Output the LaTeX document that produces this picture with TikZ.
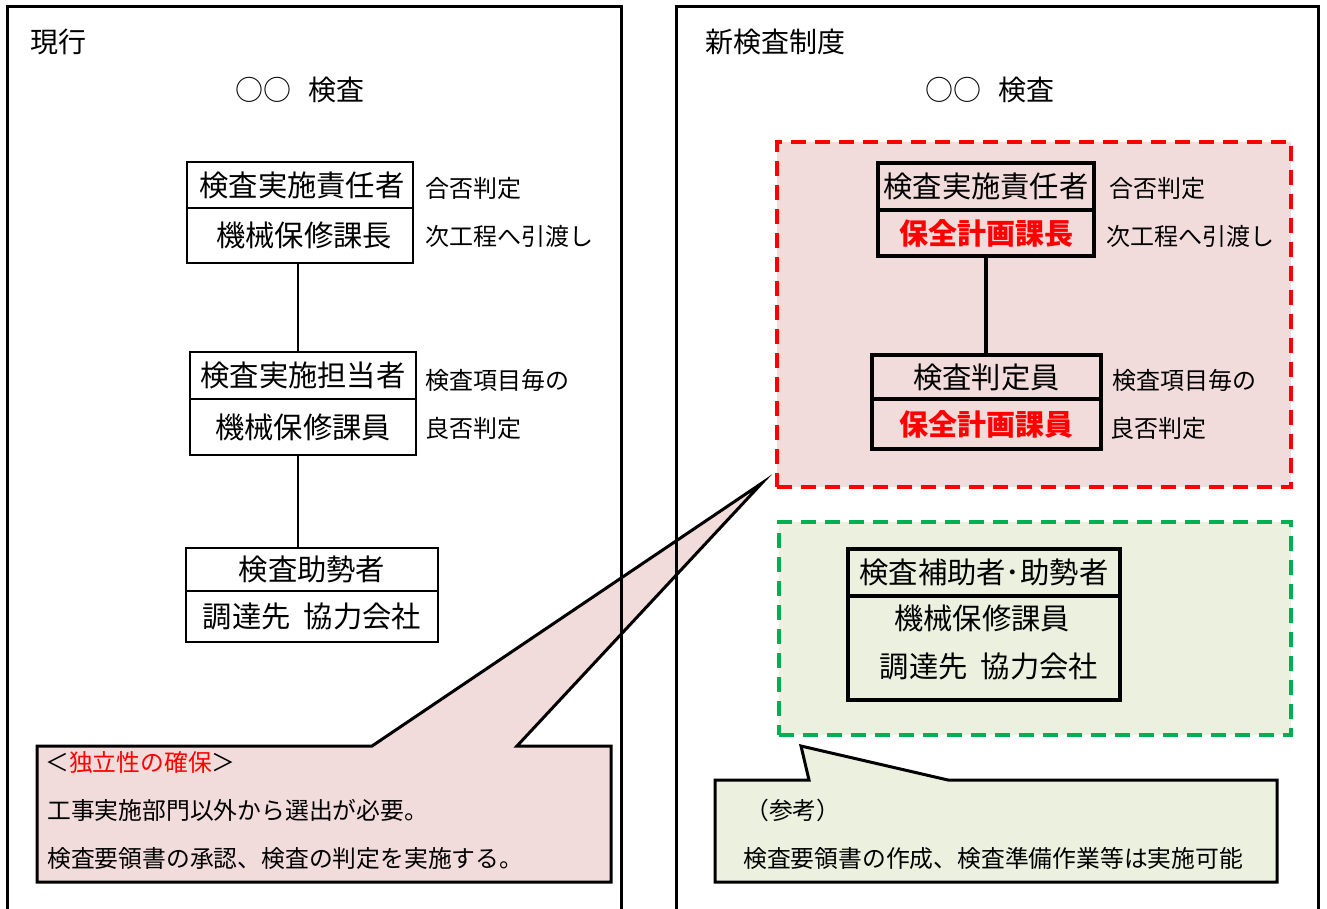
\documentclass[tikz,border=0pt]{standalone}
\usepackage{fontspec}
\setmainfont{Noto Sans CJK JP}
\definecolor{pinkfill}{RGB}{242,220,219}
\definecolor{greenfill}{RGB}{235,241,222}
\definecolor{dgreen}{RGB}{0,176,80}
\begin{document}
\begin{tikzpicture}[x=1pt,y=-1pt,
  title/.style={font=\fontsize{28}{30}\selectfont, inner sep=0pt},
  lab/.style={font=\fontsize{24}{26}\selectfont, anchor=west, inner sep=0pt},
  note/.style={font=\fontsize{23.8}{26}\selectfont, anchor=west, inner sep=0pt},
  celltxt/.style={font=\fontsize{29.3}{32}\selectfont, inner sep=0pt},
  cell/.style={draw, line width=2pt, inner sep=0pt, font=\fontsize{29.3}{32}\selectfont},
  cellb/.style={draw, line width=3.5pt, inner sep=0pt, font=\fontsize{29.3}{32}\selectfont},
  redtxt/.style={text=red, font=\fontsize{29}{32}\selectfont\bfseries},
  link/.style={line width=2pt},
  linkb/.style={line width=3.5pt},
  zone/.style={line width=3.5pt, dash pattern=on 15pt off 9pt, inner sep=0pt},
  callout/.style={line width=3pt, draw=black, line join=miter},
  panel/.style={line width=3pt}
]
\useasboundingbox (0,0) rectangle (1327,908);

% zones
\node[zone, draw=red, fill=pinkfill, minimum width=514pt, minimum height=345pt] (redzone) at (1034,314.5) {};
\node[zone, draw=dgreen, fill=greenfill, minimum width=512pt, minimum height=213pt] (greenzone) at (1035,628.5) {};

% titles
\node[title, anchor=west] (tl) at (30,42) {現行};
\node[title, anchor=west] (tr) at (705,42) {新検査制度};
\node[title] (kl) at (300,90) {○○\hspace{17pt}検査};
\node[title] (kr) at (990,90) {○○\hspace{17pt}検査};

% left chain
\node[cell, minimum width=226pt, minimum height=46pt] (L1a) at (300,185) {\hspace{4pt}検査実施責任者};
\node[cell, minimum width=226pt, minimum height=55pt] (L1b) at (300,235.5) {\hspace{8pt}機械保修課長};
\node[cell, minimum width=226pt, minimum height=47pt] (L2a) at (303,375.5) {検査実施担当者};
\node[cell, minimum width=226pt, minimum height=56pt] (L2b) at (303,427) {機械保修課員};
\node[cell, minimum width=252pt, minimum height=43pt] (L3a) at (312,569.5) {検査助勢者\hspace{12pt}};
\node[cell, minimum width=252pt, minimum height=51pt] (L3b) at (312,616.5) {調達先\hspace{0.45em}協力会社};
\draw[link] (298,263) coordinate (c1) -- (c1 |- L2a.north);
\draw[link] (298,455) coordinate (c2) -- (c2 |- L3a.north);

\node[lab] (l1) at (425,188) {合否判定};
\node[lab] (l2) at (425,236) {次工程へ引渡し};
\node[lab] (l3) at (425,380) {検査項目毎の};
\node[lab] (l4) at (425,428) {良否判定};

% right chain
\node[cellb, minimum width=216pt, minimum height=47pt] (R1a) at (986,186.5) {検査実施責任者};
\node[cellb, minimum width=216pt, minimum height=46pt, redtxt] (R1b) at (986,233) {保全計画課長};
\node[cellb, minimum width=229pt, minimum height=44pt] (R2a) at (986.5,377) {検査判定員};
\node[cellb, minimum width=229pt, minimum height=50pt, redtxt] (R2b) at (986.5,424) {保全計画課員};
\draw[linkb] (R1b.south) -- (R1b.south |- R2a.north);

\node[lab] (r1) at (1109,188) {合否判定};
\node[lab] (r2) at (1106,236) {次工程へ引渡し};
\node[lab] (r3) at (1112,380) {検査項目毎の};
\node[lab] (r4) at (1110,428) {良否判定};

\node[cellb, minimum width=272pt, minimum height=47pt] (R3a) at (984,572.5) {検査補助者･助勢者};
\node[cellb, minimum width=272pt, minimum height=104pt] (R3b) at (984,648) {};
\node[celltxt] (R3t1) at (982,618) {機械保修課員};
\node[celltxt] (R3t2) at (989,666) {調達先\hspace{0.45em}協力会社};

% left callout
\coordinate (tipL) at (762,483);
\path[callout, fill=pinkfill] (37,746) -- (372,746) -- (tipL) -- (517,746) -- (611,746) -- (611,882) -- (37,882) -- cycle;
\node[note] (n1) at (45,762) {＜\textcolor{red}{独立性の確保}＞};
\node[note] (n2) at (47,810) {工事実施部門以外から選出が必要。};
\node[note] (n3) at (47,858) {検査要領書の承認、検査の判定を実施する。};

% right callout
\coordinate (tipR) at (801,746);
\path[callout, fill=greenfill] (715,780) -- (809,780) -- (tipR) -- (948,780) -- (1277,780) -- (1277,882) -- (715,882) -- cycle;
\node[note] (n4) at (745,810) {（参考）};
\node[note] (n5) at (743,858) {検査要領書の作成、検査準備作業等は実施可能};

% panels
\draw[panel] (7,915) -- (7,6) -- (621,6) -- (621,915);
\draw[panel] (676,915) -- (676,6) -- (1318,6) -- (1318,915);
\end{tikzpicture}
\end{document}
